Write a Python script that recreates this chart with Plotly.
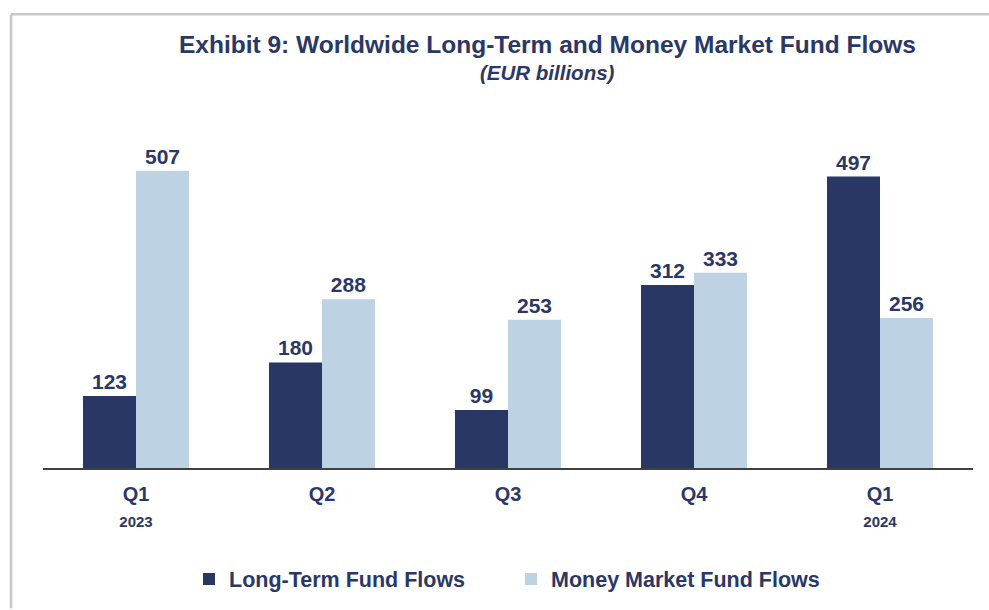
import plotly.graph_objects as go

categories = ["<b>Q1</b><br><b><span style='font-size:15px'>2023</span></b>", "<b>Q2</b>", "<b>Q3</b>", "<b>Q4</b>",
              "<b>Q1</b><br><b><span style='font-size:15px'>2024</span></b>"]
long_term = [123, 180, 99, 312, 497]
money_market = [507, 288, 253, 333, 256]

NAVY = "#283764"
LIGHT = "#bdd3e4"
TEXT = "#2b3766"
FONT = "Liberation Sans, Arial, sans-serif"

x_idx = list(range(len(categories)))

fig = go.Figure()
fig.add_trace(go.Bar(
    x=x_idx, y=long_term, name="<b>Long-Term Fund Flows</b>",
    marker=dict(color=NAVY, line=dict(width=0)),
    text=[str(v) for v in long_term], texttemplate="<b>%{text}</b>", textposition="outside",
    textfont=dict(size=21, color=TEXT, family=FONT),
    cliponaxis=False,
))
fig.add_trace(go.Bar(
    x=x_idx, y=money_market, name="<b>Money Market Fund Flows</b>",
    marker=dict(color=LIGHT, line=dict(width=0)),
    text=[str(v) for v in money_market], texttemplate="<b>%{text}</b>", textposition="outside",
    textfont=dict(size=21, color=TEXT, family=FONT),
    cliponaxis=False,
))

L, R, T, B = 43, 16, 120, 141
W, H = 989, 610
pw, ph = W - L - R, H - T - B

def px(x):
    return (x - L) / pw

def py(y):
    return (H - B - y) / ph

fig.update_layout(
    width=W, height=H,
    margin=dict(l=L, r=R, t=T, b=B, pad=0),
    paper_bgcolor="white", plot_bgcolor="white",
    barmode="group", bargap=0.43, bargroupgap=0,
    font=dict(family=FONT, color=TEXT),
    showlegend=True,
    legend=dict(orientation="h", x=px(189), xanchor="left", y=py(579), yanchor="middle",
                font=dict(size=21.5, color=TEXT, family=FONT), itemwidth=30,
                entrywidth=277, entrywidthmode="pixels",
                traceorder="normal"),
    xaxis=dict(tickmode="array", tickvals=x_idx, ticktext=categories,
               range=[-0.5, len(categories) - 0.5],
               showline=True, linecolor="#404040", linewidth=1.5,
               ticks="", showgrid=False, zeroline=False, ticklabelstandoff=7,
               tickfont=dict(size=20, color=TEXT, family=FONT)),
    yaxis=dict(range=[0, 593.5], visible=False, showgrid=False, zeroline=False),
    annotations=[
        dict(text="<b>Exhibit 9: Worldwide Long-Term and Money Market Fund Flows</b>",
             x=px(547), y=py(44), xref="paper", yref="paper", showarrow=False,
             xanchor="center", yanchor="middle",
             font=dict(size=24.5, color=TEXT, family=FONT)),
        dict(text="<b><i>(EUR billions)</i></b>",
             x=px(547), y=py(72), xref="paper", yref="paper", showarrow=False,
             xanchor="center", yanchor="middle",
             font=dict(size=20.5, color=TEXT, family=FONT)),
    ],
    shapes=[
        dict(type="line", xref="paper", yref="paper", x0=px(11), x1=px(989),
             y0=py(14), y1=py(14), line=dict(color="#c8c8c8", width=2.5)),
        dict(type="line", xref="paper", yref="paper", x0=px(11), x1=px(11),
             y0=py(14), y1=py(610), line=dict(color="#c8c8c8", width=2.5)),
    ],
)

fig.write_html("out.html")
